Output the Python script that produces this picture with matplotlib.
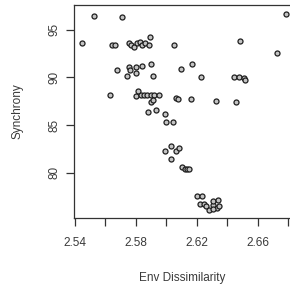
import numpy as np
import matplotlib.pyplot as plt

# env dissimilarity vs synchrony
env_dissim = [2.5525, 2.5709, 2.6787, 2.5446, 2.5640, 2.5660, 2.5755, 2.5771,
              2.5785, 2.5808, 2.5827, 2.5840, 2.5863, 2.5886, 2.5893, 2.6051,
              2.6485, 2.6728,
              2.5676, 2.5757, 2.5762, 2.5801, 2.5799, 2.5837, 2.5900, 2.5740,
              2.5915, 2.6097, 2.6171, 2.6231, 2.6445, 2.6476, 2.6508, 2.6517,
              2.5632, 2.5798, 2.5816, 2.5831, 2.5854, 2.5873, 2.5896, 2.5919,
              2.5949, 2.5896, 2.5913, 2.6061, 2.6079, 2.6162, 2.6327, 2.6456,
              2.5880, 2.5932, 2.5990, 2.5998, 2.6044,
              2.5992, 2.6029, 2.6064, 2.6086, 2.6031,
              2.6103, 2.6120, 2.6136, 2.6151,
              2.6200, 2.6233, 2.6220, 2.6250, 2.6264, 2.6283, 2.6305, 2.6309,
              2.6342, 2.6330, 2.6307, 2.6347]
synchrony = [96.44, 96.34, 96.65, 93.64, 93.35, 93.45, 93.56, 93.40,
             93.24, 93.61, 93.71, 93.45, 93.61, 93.40, 94.21, 93.43,
             93.80, 92.51,
             90.78, 91.12, 90.78, 91.12, 90.46, 91.20, 91.44, 90.12,
             90.12, 90.93, 91.44, 90.07, 90.07, 90.07, 89.99, 89.70,
             88.17, 88.07, 88.57, 88.18, 88.18, 88.18, 88.15, 88.15,
             88.15, 87.47, 87.68, 87.89, 87.73, 87.71, 87.50, 87.44,
             86.42, 86.53, 86.14, 85.29, 85.29,
             82.33, 82.83, 82.33, 82.64, 81.47,
             80.57, 80.39, 80.39, 80.39,
             77.56, 77.56, 76.77, 76.77, 76.51, 76.05, 76.66, 77.08,
             77.16, 76.30, 76.24, 76.56]

xticks = [2.54, 2.56, 2.58, 2.60, 2.62, 2.64, 2.66, 2.68]
xticklabels = ['2.54', '', '2.58', '', '2.62', '', '2.66', '']
yticks = [80, 85, 90, 95]

plt.rcParams['font.family'] = ['Liberation Sans', 'DejaVu Sans']

fig = plt.figure(figsize=(2.9, 2.93), dpi=100)
ax = fig.add_axes([74/290, 75/293, 216/290, 213.5/293])

ax.scatter(env_dissim, synchrony, s=13, facecolor='#c4c4c4',
           edgecolor='#1e1e1e', linewidths=0.9, zorder=3)

ax.set_xlim(2.5393, 2.6813)
ax.set_ylim(75.25, 97.65)

ax.set_xticks(xticks)
ax.set_xticklabels(xticklabels)
ax.set_yticks(yticks)
ax.set_yticklabels([str(v) for v in yticks], rotation=90, va='center')

ax.tick_params(axis='both', direction='out', length=6, width=0.9,
               color='#333333', labelsize=8.5, labelcolor='#3a3a3a')
ax.tick_params(axis='x', pad=8)
ax.tick_params(axis='y', pad=4)

for side in ['left', 'top', 'bottom']:
    ax.spines[side].set_linewidth(0.9)
    ax.spines[side].set_color('#333333')
ax.spines['right'].set_visible(False)

fig.text(182/290, 1 - 278/293, 'Env Dissimilarity', ha='center', va='center',
         fontsize=8.5, color='#3a3a3a')
fig.text(17/290, 1 - 111/293, 'Synchrony', ha='center', va='center',
         rotation=90, fontsize=8.5, color='#3a3a3a')

fig.savefig('out.png', dpi=100)
